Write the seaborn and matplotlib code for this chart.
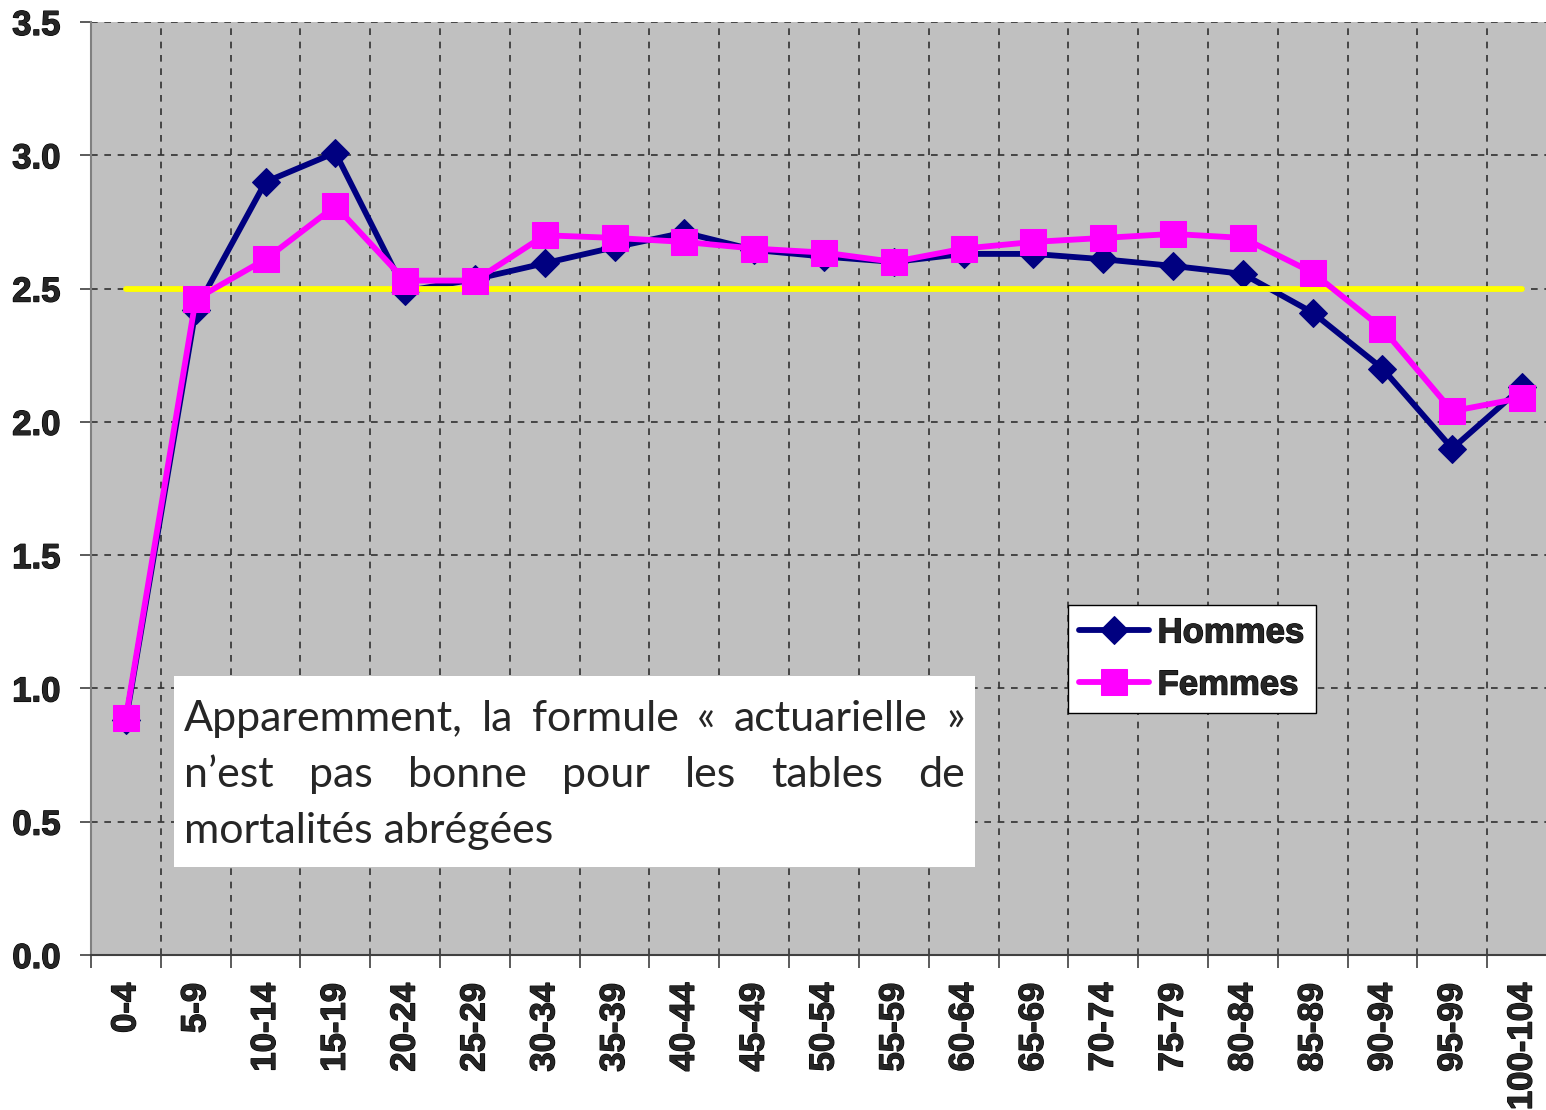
import matplotlib
matplotlib.use("Agg")
import matplotlib.pyplot as plt
import matplotlib.patheffects as pe
import seaborn as sns
import numpy as np
import pandas as pd
from matplotlib.patches import Rectangle
from matplotlib.ticker import FixedLocator, FormatStrFormatter

# ---- data ----
ages = ["0-4", "5-9", "10-14", "15-19", "20-24", "25-29", "30-34", "35-39",
        "40-44", "45-49", "50-54", "55-59", "60-64", "65-69", "70-74", "75-79",
        "80-84", "85-89", "90-94", "95-99", "100-104"]
hommes = [0.88, 2.42, 2.90, 3.01, 2.49, 2.535, 2.595, 2.655, 2.71, 2.645, 2.62,
          2.60, 2.63, 2.63, 2.61, 2.585, 2.555, 2.41, 2.20, 1.90, 2.13]
femmes = [0.89, 2.46, 2.61, 2.81, 2.53, 2.53, 2.70, 2.69, 2.675, 2.65, 2.635,
          2.60, 2.65, 2.675, 2.69, 2.705, 2.69, 2.56, 2.35, 2.04, 2.09]
reference = 2.5
yticks = [0.0, 0.5, 1.0, 1.5, 2.0, 2.5, 3.0, 3.5]
note_lines = ["Apparemment, la formule « actuarielle »",
              "n’est pas bonne pour les tables de",
              "mortalités abrégées"]

df = pd.DataFrame({"age": ages, "Hommes": hommes, "Femmes": femmes})
df["pos"] = np.arange(len(ages))

sns.set_style("white")
plt.rcParams["font.family"] = ["Liberation Sans", "DejaVu Sans"]

W, H = 1546, 1110
L, R, T, B = 91, 1557, 22, 955
fig = plt.figure(figsize=(W/100, H/100), dpi=100)
ax = fig.add_axes([L/W, 1-B/H, (R-L)/W, (B-T)/H])
ax.set_facecolor("#C0C0C0")

navy = "#000080"
pink = "#FF00FF"

sns.lineplot(data=df, x="pos", y="Hommes", ax=ax, color=navy, lw=4.2,
             marker="D", markersize=14, markeredgecolor=navy, markerfacecolor=navy,
             label="Hommes", zorder=3, sort=False)
ax.plot([df["pos"].iloc[0], df["pos"].iloc[-1]], [reference, reference],
        color="#FFFF00", lw=4.2, solid_capstyle="round", zorder=4)
sns.lineplot(data=df, x="pos", y="Femmes", ax=ax, color=pink, lw=4.2,
             marker="s", markersize=18.5, markeredgecolor=pink, markerfacecolor=pink,
             label="Femmes", zorder=5, sort=False)

n = len(ages)
ax.set_xlim(-0.5, n - 0.5)
ax.set_ylim(0, 3.5)
ax.set_xlabel("")
ax.set_ylabel("")

heavy = [pe.withStroke(linewidth=0.9, foreground="black")]

# x axis
ax.set_xticks(np.arange(n))
ax.set_xticklabels(ages, rotation=90, fontsize=25, fontweight="bold")
ax.xaxis.set_minor_locator(FixedLocator(np.arange(-0.5, n, 1.0)))
ax.tick_params(axis="x", which="major", length=0, pad=20)
ax.tick_params(axis="x", which="minor", length=9, width=1.2, color="#404040", direction="out", bottom=True)
for lab in ax.get_xticklabels():
    lab.set_va("top")
    lab.set_path_effects(heavy)

# y axis
ax.set_yticks(yticks)
ax.yaxis.set_major_formatter(FormatStrFormatter("%.1f"))
ax.tick_params(axis="y", which="major", length=8, width=1.2, color="#404040",
               direction="out", left=True, labelsize=25, pad=14)
for lab in ax.get_yticklabels():
    lab.set_fontweight("bold")
    lab.set_path_effects(heavy)

# grid
ax.grid(False)
ax.xaxis.grid(True, which="minor", color="#303030", lw=1.2, ls=(0, (4, 4)))
ax.yaxis.grid(True, which="major", color="#303030", lw=1.2, ls=(0, (4, 4)))
ax.set_axisbelow(True)

for side in ["top", "right"]:
    ax.spines[side].set_visible(False)
ax.spines["left"].set_color("#808080")
ax.spines["left"].set_linewidth(1.5)
ax.spines["bottom"].set_color("#404040")
ax.spines["bottom"].set_linewidth(1.5)

# legend
def ax_x(px):
    return (px - L) / (R - L)

def ax_y(py):
    return (B - py) / (B - T)

leg = ax.legend(loc="upper left", bbox_to_anchor=(ax_x(1068), ax_y(605)), frameon=True,
                fancybox=False, edgecolor="black", framealpha=1, facecolor="white",
                prop={"family": "Liberation Sans", "weight": "bold", "size": 25},
                handlelength=2.0, handletextpad=0.25, borderpad=0.33, labelspacing=0.55,
                borderaxespad=0)
leg.get_frame().set_linewidth(1.0)
leg.set_zorder(10)
for t in leg.get_texts():
    t.set_path_effects(heavy)

# note box
ax.add_patch(Rectangle((ax_x(174), ax_y(867)), ax_x(975) - ax_x(174), ax_y(676) - ax_y(867),
                       transform=ax.transAxes, facecolor="white", edgecolor="none", zorder=8))

tx0 = ax_x(184)
tx1 = ax_x(965)
baselines = [ax_y(731), ax_y(787), ax_y(843)]
fig.canvas.draw()
renderer = fig.canvas.get_renderer()
inv = ax.transAxes.inverted()
for i, line in enumerate(note_lines):
    words = line.split(" ")
    if i < len(note_lines) - 1:
        objs = [ax.text(0, baselines[i], w, transform=ax.transAxes, fontsize=31,
                        family="Lato", va="baseline", ha="left", zorder=9) for w in words]
        widths = []
        for o in objs:
            bb = o.get_window_extent(renderer)
            (a, _), (b, _) = inv.transform([[bb.x0, 0], [bb.x1, 0]])
            widths.append(b - a)
        gap = (tx1 - tx0 - sum(widths)) / (len(words) - 1)
        x = tx0
        for o, w in zip(objs, widths):
            o.set_x(x)
            x += w + gap
    else:
        ax.text(tx0, baselines[i], line, transform=ax.transAxes, fontsize=31,
                family="Lato", va="baseline", ha="left", zorder=9)

fig.savefig("out.png", dpi=100, facecolor="white")
